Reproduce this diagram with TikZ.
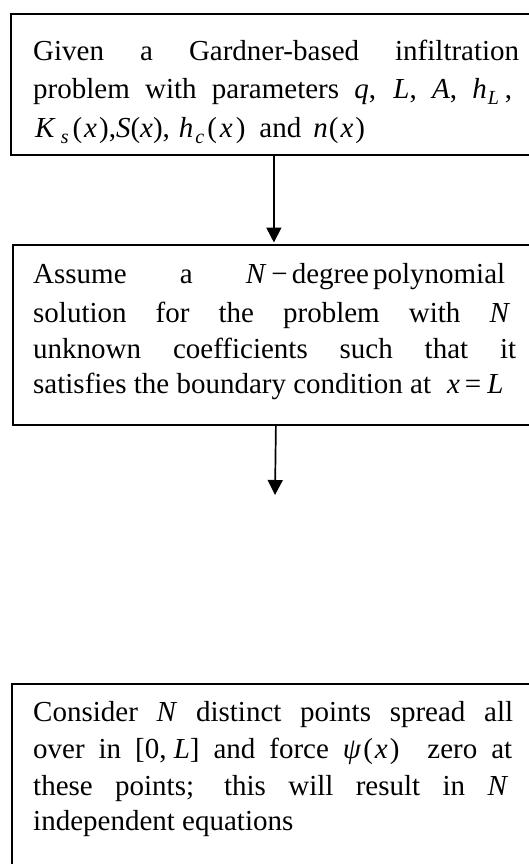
\documentclass[tikz,border=0pt]{standalone}
\usepackage{fontspec}
\setmainfont{Liberation Serif}
\usetikzlibrary{arrows.meta}
\newcommand\mi[1]{\textit{#1}}
\newcommand\msub[1]{\raisebox{-6pt}{\fontsize{20}{20}\selectfont\itshape #1}}
\newcommand\jline[2][484pt]{\makebox[#1][s]{#2}}
\begin{document}
\begin{tikzpicture}[x=1pt,y=-1pt,
  box/.style={draw, line width=1.8pt, rectangle, anchor=north west, inner sep=0pt, minimum width=526pt},
  txt/.style={anchor=base west, inner sep=0pt, font=\fontsize{29}{37}\selectfont},
  flow/.style={line width=1.7pt, -{Triangle[width=15pt,length=15pt]}}]
\useasboundingbox (0,0) rectangle (528,864);
% boxes
\node[box, minimum height=141pt] (b1) at (10,13) {};
\node[box, minimum height=180pt] (b2) at (12,244) {};
\node[box, minimum height=220pt] (b3) at (11,683) {};
% box 1 text
\node[txt] (t11) at (33,61) {\jline[486pt]{Given a Gardner-based infiltration}};
\node[txt] (t12) at (33,99) {\jline[479pt]{problem with parameters \mi{q}, \mi{L}, \mi{A}, \mbox{\mi{h}\kern1pt\msub{L}\kern6pt,}}};
\node[txt] (t13) at (35,137) {\mi{K}\kern5pt\msub{s}\kern4pt(\kern2pt\mi{x}\kern2pt),\mi{S}(\mi{x}),\hspace{9pt}\mi{h}\kern2pt\msub{c}\kern3pt(\kern3pt\mi{x}\kern3pt)\hspace{14pt}and\hspace{12pt}\mi{n}\kern1pt(\kern2pt\mi{x}\kern2pt)};
% box 2 text
\node[txt] (t21) at (33,283) {\jline[472pt]{Assume a \mbox{\mi{N}\kern5pt−\kern4pt degree\kern4pt polynomial}}};
\node[txt] (t22) at (33,322) {\jline[477pt]{solution for the problem with \mi{N}}};
\node[txt] (t23) at (33,358) {\jline[483pt]{unknown coefficients such that it}};
\node[txt] (t24) at (33,393) {satisfies the boundary condition at\hspace{16pt}\mi{x}\kern5pt=\kern6pt\mi{L}};
% box 3 text
\node[txt] (t31) at (33,721) {\jline[480pt]{Consider \mi{N} distinct points spread all}};
\node[txt] (t32) at (33,758) {\jline[479pt]{over in \mbox{[0, \mi{L}]} and force \mbox{\mi{ψ}\kern2pt(\kern2pt\mi{x}\kern2pt)} \ zero at}};
\node[txt] (t33) at (33,795) {\jline[475pt]{these points; this will result in \mi{N}}};
\node[txt] (t34) at (33,830) {independent equations};
% connectors
\coordinate (e2) at (275,495);
\draw[flow] (b1.south) -- ([yshift=1.5pt]b1.south |- b2.north);
\draw[flow] (b2.south) -- (e2);
\end{tikzpicture}
\end{document}
